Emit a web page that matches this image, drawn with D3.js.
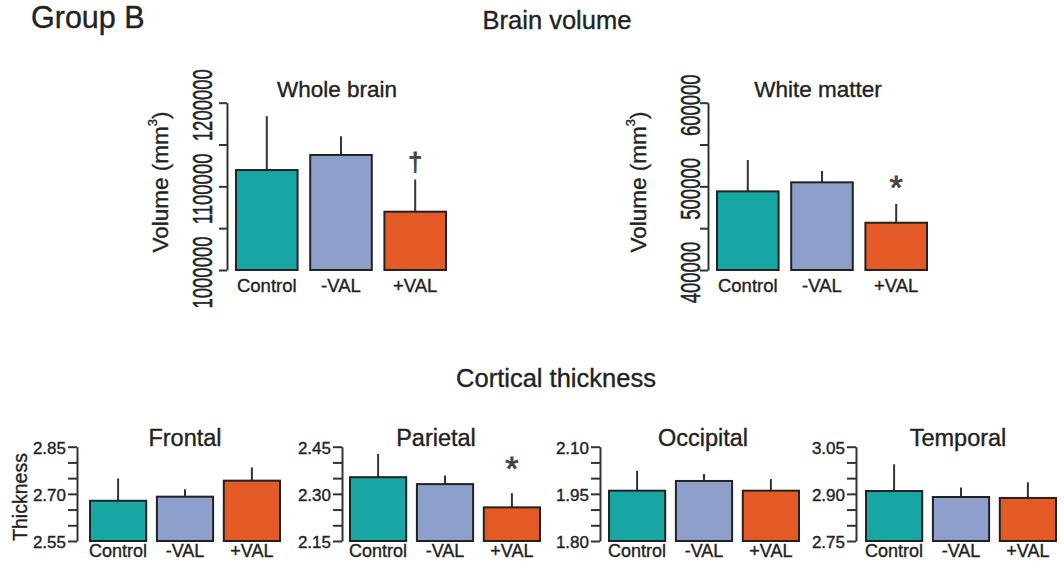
<!DOCTYPE html>
<html>
<head>
<meta charset="utf-8">
<script src="https://cdn.jsdelivr.net/npm/d3@7"></script>
<style>
  body { margin: 0; background: #fff; }
  svg { display: block; font-family: "Liberation Sans", Arial, sans-serif; }
  svg text { fill: #222; stroke: #222; stroke-width: 0.35px; }
  .axis path, .axis line { stroke: #333; stroke-width: 2px; }
</style>
</head>
<body>
<script>
// DATA
const groups = ["Control", "-VAL", "+VAL"];

const volumeTitles = ["Whole brain", "White matter"];
const wholeBrainMean = [1119500, 1137500, 1069700];
const wholeBrainErr = [64500, 22500, 38500];
const whiteMatterMean = [494000, 504800, 456500];
const whiteMatterErr = [37500, 13500, 22400];
const wholeBrainTicks = [1000000, 1050000, 1100000, 1150000, 1200000];
const whiteMatterTicks = [400000, 450000, 500000, 550000, 600000];
const wholeBrainLabels = [1000000, 1100000, 1200000];
const whiteMatterLabels = [400000, 500000, 600000];
const wholeBrainMarks = ["", "", "\u2020"];
const whiteMatterMarks = ["", "", "*"];

const thicknessTitles = ["Frontal", "Parietal", "Occipital", "Temporal"];
const frontalMean = [2.678, 2.691, 2.742];
const frontalErr = [0.071, 0.024, 0.042];
const parietalMean = [2.353, 2.331, 2.257];
const parietalErr = [0.074, 0.027, 0.045];
const occipitalMean = [1.960, 1.991, 1.960];
const occipitalErr = [0.063, 0.022, 0.037];
const temporalMean = [2.909, 2.890, 2.887];
const temporalErr = [0.085, 0.030, 0.050];
const frontalTicks = [2.55, 2.70, 2.85];
const parietalTicks = [2.15, 2.30, 2.45];
const occipitalTicks = [1.80, 1.95, 2.10];
const temporalTicks = [2.75, 2.90, 3.05];
const parietalMarks = ["", "", "*"];

const colors = ["#18a6a5", "#8ca0cb", "#e45a26"];

// LAYOUT
const width = 1064, height = 561;
const svg = d3.select("body").append("svg")
    .attr("width", width)
    .attr("height", height);

// headings
svg.append("text").attr("x", 31).attr("y", 28)
    .attr("font-size", 30.5).text("Group B");
svg.append("text").attr("x", 557).attr("y", 29)
    .attr("text-anchor", "middle").attr("font-size", 25.5).text("Brain volume");
svg.append("text").attr("x", 556).attr("y", 387)
    .attr("text-anchor", "middle").attr("font-size", 25.5).text("Cortical thickness");

// draws the error bars, bars and marks of one panel
function drawBars(g, x, y, mean, err, marks, markGap) {
    const rows = groups.map((k, i) => ({ k, m: mean[i], e: err[i], mark: marks ? marks[i] : "" }));

    g.selectAll("line.err")
        .data(rows)
        .join("line")
        .attr("class", "err")
        .attr("x1", d => x(d.k) + x.bandwidth() / 2)
        .attr("x2", d => x(d.k) + x.bandwidth() / 2)
        .attr("y1", d => y(d.m))
        .attr("y2", d => y(d.m + d.e))
        .attr("stroke", "#333")
        .attr("stroke-width", 2);

    g.selectAll("rect.bar")
        .data(rows)
        .join("rect")
        .attr("class", "bar")
        .attr("x", d => x(d.k))
        .attr("y", d => y(d.m))
        .attr("width", x.bandwidth())
        .attr("height", d => y.range()[0] - y(d.m))
        .attr("fill", (d, i) => colors[i])
        .attr("stroke", "#222")
        .attr("stroke-width", 2);

    g.selectAll("text.mark")
        .data(rows.filter(d => d.mark))
        .join("text")
        .attr("class", "mark")
        .attr("x", d => x(d.k) + x.bandwidth() / 2)
        .attr("y", d => y(d.m + d.e) - markGap)
        .attr("text-anchor", "middle")
        .attr("font-size", d => d.mark === "*" ? 34 : 25)
        .style("fill", "#444")
        .style("stroke", "#444")
        .style("stroke-width", "0.8px")
        .text(d => d.mark);
}

// VOLUME PANELS
const volumePanels = [
    { mean: wholeBrainMean, err: wholeBrainErr, ticks: wholeBrainTicks, labels: wholeBrainLabels,
      domain: [1000000, 1200000], marks: wholeBrainMarks, axisX: 227, lblOff: 24, ylabX: 160, markGap: 8 },
    { mean: whiteMatterMean, err: whiteMatterErr, ticks: whiteMatterTicks, labels: whiteMatterLabels,
      domain: [400000, 600000], marks: whiteMatterMarks, axisX: 708, lblOff: 17, ylabX: 638, markGap: 5 }
];

volumePanels.forEach((p, idx) => {
    const g = svg.append("g");
    const y = d3.scaleLinear().domain(p.domain).range([270, 102.7]);
    const x = d3.scaleBand()
        .domain(groups)
        .range([p.axisX + 9, p.axisX + 219])
        .paddingInner(0.17)
        .paddingOuter(0);

    drawBars(g, x, y, p.mean, p.err, p.marks, p.markGap);

    const ax = g.append("g")
        .attr("class", "axis")
        .attr("transform", `translate(${p.axisX},0)`)
        .call(d3.axisLeft(y)
            .tickValues(p.ticks)
            .tickSize(8)
            .tickSizeOuter(0)
            .tickFormat(d => p.labels.includes(d) ? String(d) : ""));
    ax.selectAll("text")
        .attr("x", null)
        .attr("dy", null)
        .attr("font-size", 18.5)
        .attr("font-family", "'Liberation Sans', Arial, sans-serif")
        .attr("text-anchor", "middle")
        .attr("dominant-baseline", "central")
        .attr("transform", `translate(${-p.lblOff},2) rotate(-90) scale(1,1.45)`);

    // x labels
    g.selectAll("text.xlab")
        .data(groups)
        .join("text")
        .attr("class", "xlab")
        .attr("x", d => x(d) + x.bandwidth() / 2)
        .attr("y", 291.5)
        .attr("text-anchor", "middle")
        .attr("font-size", 18.5)
        .text(d => d);

    g.append("text")
        .attr("x", (x.range()[0] + x.range()[1]) / 2 - 4)
        .attr("y", 97)
        .attr("text-anchor", "middle")
        .attr("font-size", 22.5)
        .text(volumeTitles[idx]);

    const yl = g.append("text")
        .attr("transform", `translate(${p.ylabX},182) rotate(-90)`)
        .attr("text-anchor", "middle")
        .attr("dominant-baseline", "central")
        .attr("font-size", 22.5);
    yl.append("tspan").text("Volume (mm");
    yl.append("tspan").attr("font-size", 13).attr("dy", -8).text("3");
    yl.append("tspan").attr("dy", 8).text(")");
});

// THICKNESS PANELS
const thicknessPanels = [
    { mean: frontalMean, err: frontalErr, labels: frontalTicks, marks: null, axisX: 77, barOff: 13, titleDx: 0 },
    { mean: parietalMean, err: parietalErr, labels: parietalTicks, marks: parietalMarks, axisX: 342, barOff: 8, titleDx: -9 },
    { mean: occipitalMean, err: occipitalErr, labels: occipitalTicks, marks: null, axisX: 600, barOff: 9, titleDx: -1 },
    { mean: temporalMean, err: temporalErr, labels: temporalTicks, marks: null, axisX: 856, barOff: 10, titleDx: -3 }
];

thicknessPanels.forEach((p, idx) => {
    const g = svg.append("g");
    const lo = p.labels[0], hi = p.labels[2];
    const y = d3.scaleLinear().domain([lo, hi]).range([541, 446.7]);
    const x = d3.scaleBand()
        .domain(groups)
        .range([p.axisX + p.barOff, p.axisX + p.barOff + 190])
        .paddingInner(0.16)
        .paddingOuter(0);

    drawBars(g, x, y, p.mean, p.err, p.marks, 13);

    // minor ticks every sixth of the range, labels only at the three values
    const allTicks = d3.range(7).map(i => lo + (hi - lo) * i / 6);
    const ax = g.append("g")
        .attr("class", "axis")
        .attr("transform", `translate(${p.axisX},0)`)
        .call(d3.axisLeft(y)
            .tickValues(allTicks)
            .tickSize(9)
            .tickSizeOuter(0)
            .tickPadding(2)
            .tickFormat(d => (Math.round((d - lo) / (hi - lo) * 6) % 3 === 0) ? d3.format(".2f")(d) : ""));
    ax.selectAll("text")
        .attr("font-size", 17)
        .attr("font-family", "'Liberation Sans', Arial, sans-serif")
        .attr("dy", "0.38em");

    g.selectAll("text.xlab")
        .data(groups)
        .join("text")
        .attr("class", "xlab")
        .attr("x", d => x(d) + x.bandwidth() / 2)
        .attr("y", 557)
        .attr("text-anchor", "middle")
        .attr("font-size", 18)
        .text(d => d);

    g.append("text")
        .attr("x", (x.range()[0] + x.range()[1]) / 2 + p.titleDx)
        .attr("y", 446)
        .attr("text-anchor", "middle")
        .attr("font-size", 23.5)
        .text(thicknessTitles[idx]);
});

svg.append("text")
    .attr("transform", "translate(20,497) rotate(-90)")
    .attr("text-anchor", "middle")
    .attr("dominant-baseline", "central")
    .attr("font-size", 19.5)
    .text("Thickness");
</script>
</body>
</html>
